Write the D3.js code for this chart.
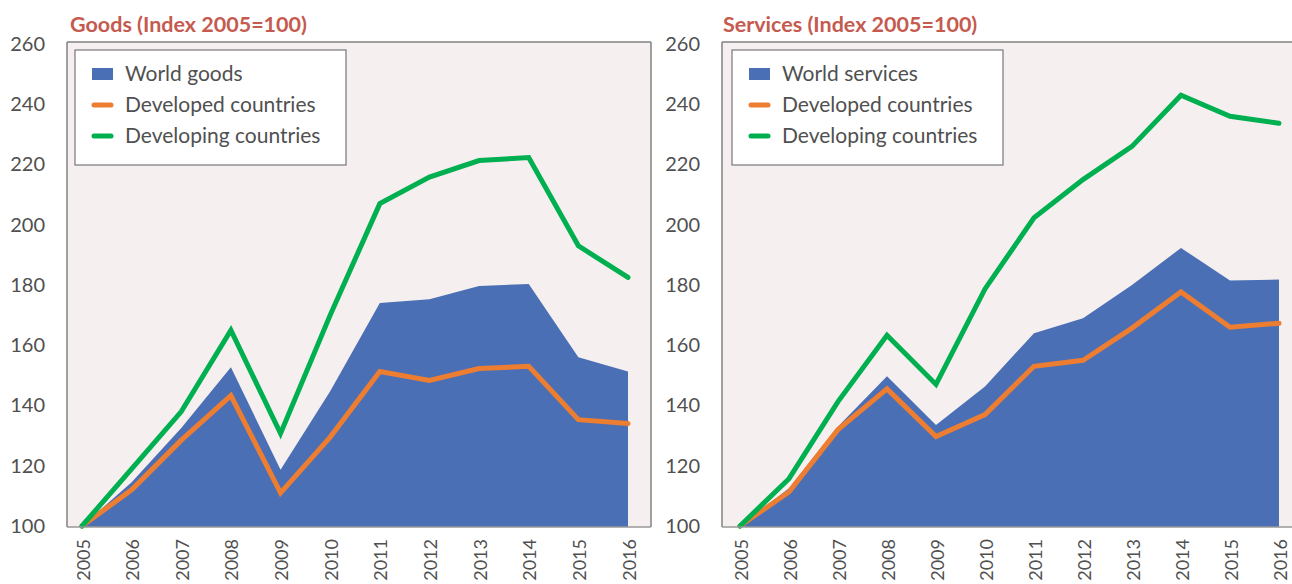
<!DOCTYPE html>
<html>
<head>
<meta charset="utf-8">
<script src="https://cdn.jsdelivr.net/npm/d3@7"></script>
<style>
  html, body { margin: 0; padding: 0; background: #fff; }
  svg { display: block; font-family: Lato, "Open Sans", sans-serif; }
</style>
</head>
<body>
<div id="chart"></div>
<script>
// ---- data ----
const years = [2005, 2006, 2007, 2008, 2009, 2010, 2011, 2012, 2013, 2014, 2015, 2016];
const yTicks = [100, 120, 140, 160, 180, 200, 220, 240, 260];

const goodsWorld      = [100, 114.5, 132.5, 152.7, 118.7, 144.7, 174.0, 175.3, 179.7, 180.3, 156.0, 151.3];
const goodsDeveloped  = [100, 112.0, 128.5, 143.3, 111.0, 129.5, 151.3, 148.3, 152.3, 153.0, 135.3, 134.0];
const goodsDeveloping = [100, 119.0, 138.0, 165.0, 130.7, 170.0, 207.0, 215.8, 221.3, 222.3, 193.0, 182.5];

const servicesWorld      = [100, 112.5, 133.0, 149.7, 133.5, 146.3, 164.0, 169.0, 180.0, 192.3, 181.5, 181.8];
const servicesDeveloped  = [100, 111.3, 132.0, 145.5, 129.7, 137.0, 153.0, 155.0, 165.7, 177.7, 166.0, 167.3];
const servicesDeveloping = [100, 115.7, 141.3, 163.3, 147.0, 178.7, 202.3, 215.0, 226.0, 243.0, 236.0, 233.7];

const BLUE = "#4A6FB5", ORANGE = "#ED7D31", GREEN = "#00B050";

const W = 1292, H = 584;
const svg = d3.select("#chart").append("svg")
  .attr("width", W).attr("height", H);

// one panel = title + frame + area + 2 lines + legend
function drawPanel(cfg) {
  const g = svg.append("g");
  const x = d3.scaleLinear().domain([2005, 2016]).range([cfg.x0, cfg.x1]);
  const y = d3.scaleLinear().domain([100, 260]).range([526, 44]);

  const top = 42, bottom = 527;

  // plot background
  g.append("rect")
    .attr("x", cfg.left).attr("y", top)
    .attr("width", cfg.right - cfg.left).attr("height", bottom - top)
    .attr("fill", "#F5EFEF");

  const world = years.map((yr, i) => ({ yr, v: cfg.world[i] }));
  g.append("path")
    .datum(world)
    .attr("fill", BLUE)
    .attr("d", d3.area().x(d => x(d.yr)).y0(bottom).y1(d => y(d.v)));

  const line = d3.line().x(d => x(d.yr)).y(d => y(d.v));
  [[cfg.developed, ORANGE], [cfg.developing, GREEN]].forEach(([vals, col]) => {
    g.append("path")
      .datum(years.map((yr, i) => ({ yr, v: vals[i] })))
      .attr("fill", "none")
      .attr("stroke", col)
      .attr("stroke-width", 5)
      .attr("stroke-linejoin", "miter")
      .attr("stroke-linecap", "round")
      .attr("d", line);
  });

  // frame lines
  const frame = g.append("g").attr("stroke", "#808080").attr("stroke-width", 1.5).attr("fill", "none");
  frame.append("line").attr("x1", cfg.left).attr("x2", cfg.right).attr("y1", top).attr("y2", top);
  frame.append("line").attr("x1", cfg.left).attr("x2", cfg.left).attr("y1", top).attr("y2", bottom);
  if (cfg.rightBorder)
    frame.append("line").attr("x1", cfg.right).attr("x2", cfg.right).attr("y1", top).attr("y2", bottom);
  frame.append("line").attr("x1", cfg.left).attr("x2", cfg.right).attr("y1", bottom).attr("y2", bottom)
    .attr("stroke", "#999");

  // y axis
  const ya = g.append("g")
    .attr("transform", `translate(${cfg.left - 22},0)`)
    .call(d3.axisLeft(y).tickValues(yTicks).tickSize(0).tickPadding(0));
  ya.select(".domain").remove();
  ya.selectAll("text")
    .attr("fill", "#505050")
    .style("font-size", "20px")
    .style("font-family", "Lato, sans-serif");

  // x axis (rotated years)
  const xa = g.append("g")
    .attr("transform", `translate(0,${bottom})`)
    .call(d3.axisBottom(x).tickValues(years).tickFormat(d3.format("d")).tickSize(0));
  xa.select(".domain").remove();
  xa.selectAll("text")
    .attr("fill", "#505050")
    .style("font-size", "18px")
    .style("font-family", "Lato, sans-serif")
    .attr("text-anchor", "end")
    .attr("dy", null)
    .attr("transform", "translate(0,12) rotate(-90)")
    .attr("x", 0).attr("y", 0)
    .attr("dominant-baseline", "central");

  // title
  g.append("text")
    .attr("x", cfg.titleX).attr("y", 32)
    .attr("fill", "#C55A4F")
    .style("font-size", "21.5px")
    .style("font-weight", "bold")
    .text(cfg.title);

  // legend
  const lg = g.append("g").attr("transform", `translate(${cfg.legX},50)`);
  lg.append("rect")
    .attr("width", 271).attr("height", 115)
    .attr("fill", "#fff").attr("stroke", "#777").attr("stroke-width", 1.2);
  const items = [
    { label: cfg.worldLabel, col: BLUE, kind: "rect" },
    { label: "Developed countries", col: ORANGE, kind: "line" },
    { label: "Developing countries", col: GREEN, kind: "line" }
  ];
  items.forEach((it, i) => {
    const cy = 24 + i * 31;
    if (it.kind === "rect") {
      lg.append("rect").attr("x", 17).attr("y", cy - 6).attr("width", 21).attr("height", 12).attr("fill", it.col);
    } else {
      lg.append("line").attr("x1", 19).attr("x2", 36).attr("y1", cy).attr("y2", cy)
        .attr("stroke", it.col).attr("stroke-width", 5).attr("stroke-linecap", "round");
    }
    lg.append("text")
      .attr("x", 50).attr("y", cy + 7)
      .attr("fill", "#505050")
      .style("font-size", "21px")
      .text(it.label);
  });
}

drawPanel({
  title: "Goods (Index 2005=100)", titleX: 70,
  left: 67, right: 651, rightBorder: true,
  x0: 82, x1: 628, legX: 75,
  worldLabel: "World goods",
  world: goodsWorld, developed: goodsDeveloped, developing: goodsDeveloping
});

drawPanel({
  title: "Services (Index 2005=100)", titleX: 723,
  left: 722, right: 1292, rightBorder: false,
  x0: 740, x1: 1279, legX: 732,
  worldLabel: "World services",
  world: servicesWorld, developed: servicesDeveloped, developing: servicesDeveloping
});
</script>
</body>
</html>
